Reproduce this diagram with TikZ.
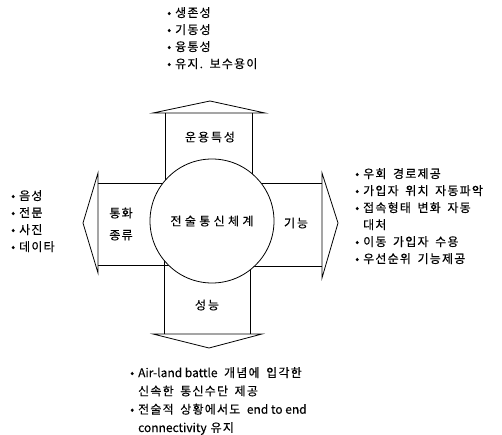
\documentclass[tikz,border=0pt]{standalone}
\usepackage{fontspec}
\setmainfont{Noto Sans CJK KR}[LetterSpace=10,FakeBold=0.3]
\newfontfamily\lat{Noto Sans CJK KR}[FakeBold=0.2]
\newcommand\gap{\hspace{0.55em}}
\begin{document}
\begin{tikzpicture}[x=1pt,y=-1pt,
  outl/.style={draw=black,line width=0.8pt,line join=miter},
  lbl/.style={inner sep=0pt,font=\fontsize{12}{13}\selectfont\addfontfeature{LetterSpace=16}},
  lst/.style={inner sep=0pt,align=left,font=\fontsize{12}{17}\selectfont},
  blst/.style={inner sep=0pt,align=left,font=\fontsize{12}{18.3}\selectfont}]
\useasboundingbox (0,0) rectangle (502,435);
\fill[white] (0,0) rectangle (502,435);
% shafts (drawn first, circle covers their inner ends)
\coordinate (C) at (212,221);
\draw[outl] (165,113) -- (165,221) (252,113) -- (252,221);
\draw[outl] (164,334) -- (164,221) (250,334) -- (250,221);
\draw[outl] (98,183) -- (212,183) (98,265) -- (212,265);
\draw[outl] (322,183) -- (212,183) (322,266) -- (212,266);
% heads
\draw[outl,fill=white] (153,113) -- (210,101) -- (265,113) -- cycle;
\draw[outl,fill=white] (153,334) -- (209,348) -- (262,334) -- cycle;
\draw[outl,fill=white] (98,173) -- (83,223) -- (98,273) -- cycle;
\draw[outl,fill=white] (322,173) -- (338,223) -- (322,278) -- cycle;
% circle
\node[outl,fill=white,circle,minimum size=124pt,inner sep=0pt] (sys) at (C) {};
\node[lbl,font=\fontsize{12}{13}\selectfont\addfontfeature{LetterSpace=28}] (core) at (C) {전술통신체계};
\node[lbl] (ops) at (210,137) {운용특성};
\node[lbl,align=center,font=\fontsize{12}{22}\selectfont] (kind) at (121,224) {통화\\종류};
\node[lbl] (func) at (296,223) {기능};
\node[lbl] (perf) at (207,305) {성능};
% lists
\node[lst,anchor=north west] (top) at (167,7)
  {• 생존성\\• 기동성\\• 융통성\\• 유지.\gap 보수용이};
\node[lst,anchor=north west] (left) at (11,190)
  {• 음성\\• 전문\\• 사진\\• 데이타};
\node[lst,anchor=north west] (right) at (355,168)
  {• 우회\gap 경로제공\\• 가입자\gap 위치\gap 자동파악\\• 접속형태\gap 변화\gap 자동\\\phantom{•} 대처\\• 이동\gap 가입자\gap 수용\\• 우선순위\gap 기능제공};
\node[blst,anchor=north west] (bottom) at (130,367)
  {• {\lat Air-land battle}\gap 개념에\gap 입각한\\\phantom{•} 신속한\gap 통신수단\gap 제공\\• 전술적\gap 상황에서도\gap {\lat end to end}\\\phantom{•} {\lat connectivity} 유지};
\end{tikzpicture}
\end{document}
